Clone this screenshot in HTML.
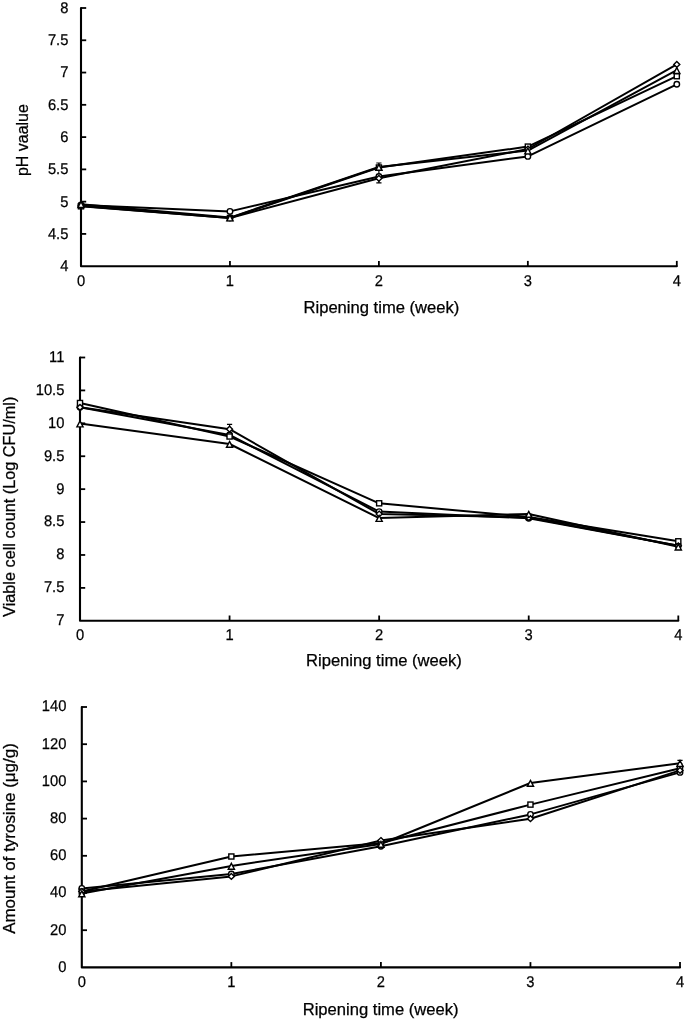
<!DOCTYPE html>
<html><head><meta charset="utf-8"><style>
html,body{margin:0;padding:0;background:#fff;}
svg{display:block;will-change:transform;}
.t{text-rendering:geometricPrecision;font-family:"Liberation Sans",sans-serif;font-size:15.5px;fill:#000;stroke:#000;stroke-width:0.25px;}
.ti{font-family:"Liberation Sans",sans-serif;font-size:16px;fill:#000;stroke:#000;stroke-width:0.25px;}
.ax{fill:none;stroke:#000;stroke-width:2.1;stroke-linejoin:round;stroke-linecap:round;}
.tk{fill:none;stroke:#000;stroke-width:1.8;}
.eb{fill:none;stroke:#000;stroke-width:1.2;}
.ln{fill:none;stroke:#000;stroke-width:2.0;stroke-linejoin:round;}
.m{fill:#fff;stroke:#000;stroke-width:1.4;}
</style></head><body>
<svg width="685" height="1020" viewBox="0 0 685 1020">
<rect width="685" height="1020" fill="#fff"/>
<path d="M81 8.0 V266.2 H676.8" class="ax"/>
<path d="M81 8.00 H86.2" class="tk"/>
<path d="M81 40.27 H86.2" class="tk"/>
<path d="M81 72.55 H86.2" class="tk"/>
<path d="M81 104.82 H86.2" class="tk"/>
<path d="M81 137.10 H86.2" class="tk"/>
<path d="M81 169.38 H86.2" class="tk"/>
<path d="M81 201.65 H86.2" class="tk"/>
<path d="M81 233.92 H86.2" class="tk"/>
<path d="M229.95 266.2 V260.9" class="tk"/>
<path d="M378.90 266.2 V260.9" class="tk"/>
<path d="M527.85 266.2 V260.9" class="tk"/>
<path d="M676.80 266.2 V260.9" class="tk"/>
<text transform="translate(68.4 12.87) scale(0.95 1)" text-anchor="end" class="t">8</text>
<text transform="translate(68.4 45.14) scale(0.95 1)" text-anchor="end" class="t">7.5</text>
<text transform="translate(68.4 77.42) scale(0.95 1)" text-anchor="end" class="t">7</text>
<text transform="translate(68.4 109.69) scale(0.95 1)" text-anchor="end" class="t">6.5</text>
<text transform="translate(68.4 141.97) scale(0.95 1)" text-anchor="end" class="t">6</text>
<text transform="translate(68.4 174.25) scale(0.95 1)" text-anchor="end" class="t">5.5</text>
<text transform="translate(68.4 206.52) scale(0.95 1)" text-anchor="end" class="t">5</text>
<text transform="translate(68.4 238.79) scale(0.95 1)" text-anchor="end" class="t">4.5</text>
<text transform="translate(68.4 271.07) scale(0.95 1)" text-anchor="end" class="t">4</text>
<text transform="translate(81.00 285.7) scale(0.95 1)" text-anchor="middle" class="t">0</text>
<text transform="translate(229.95 285.7) scale(0.95 1)" text-anchor="middle" class="t">1</text>
<text transform="translate(378.90 285.7) scale(0.95 1)" text-anchor="middle" class="t">2</text>
<text transform="translate(527.85 285.7) scale(0.95 1)" text-anchor="middle" class="t">3</text>
<text transform="translate(676.80 285.7) scale(0.95 1)" text-anchor="middle" class="t">4</text>
<text x="303.5" y="312.9" textLength="155.8" lengthAdjust="spacingAndGlyphs" class="ti">Ripening time (week)</text>
<text transform="translate(28.0 176.1) rotate(-90)" x="0" y="0" textLength="72.0" lengthAdjust="spacingAndGlyphs" class="ti">pH vaalue</text>
<path d="M378.90 163.0 V182.8 M376.30 163.0 H381.50 M376.30 182.8 H381.50" class="eb"/>
<polyline points="81.00,205.00 229.95,211.40 378.90,176.50 527.85,156.40 676.80,84.30" class="ln"/>
<polyline points="81.00,206.30 229.95,218.00 378.90,167.50 527.85,146.60 676.80,76.20" class="ln"/>
<polyline points="81.00,206.00 229.95,218.00 378.90,178.30 527.85,149.00 676.80,64.40" class="ln"/>
<polyline points="81.00,204.20 229.95,217.60 378.90,167.00 527.85,150.60 676.80,70.20" class="ln"/>
<circle cx="81.00" cy="205.00" r="2.75" class="m"/>
<circle cx="229.95" cy="211.40" r="2.75" class="m"/>
<circle cx="378.90" cy="176.50" r="2.75" class="m"/>
<circle cx="527.85" cy="156.40" r="2.75" class="m"/>
<circle cx="676.80" cy="84.30" r="2.75" class="m"/>
<rect x="78.45" y="203.75" width="5.1" height="5.1" class="m"/>
<rect x="227.40" y="215.45" width="5.1" height="5.1" class="m"/>
<rect x="376.35" y="164.95" width="5.1" height="5.1" class="m"/>
<rect x="525.30" y="144.05" width="5.1" height="5.1" class="m"/>
<rect x="674.25" y="73.65" width="5.1" height="5.1" class="m"/>
<path d="M81.00 203.10 L84.00 206.00 L81.00 208.90 L78.00 206.00 Z" class="m"/>
<path d="M229.95 215.10 L232.95 218.00 L229.95 220.90 L226.95 218.00 Z" class="m"/>
<path d="M378.90 175.40 L381.90 178.30 L378.90 181.20 L375.90 178.30 Z" class="m"/>
<path d="M527.85 146.10 L530.85 149.00 L527.85 151.90 L524.85 149.00 Z" class="m"/>
<path d="M676.80 61.50 L679.80 64.40 L676.80 67.30 L673.80 64.40 Z" class="m"/>
<path d="M81.00 201.60 L84.10 207.50 L77.90 207.50 Z" class="m"/>
<path d="M229.95 215.00 L233.05 220.90 L226.85 220.90 Z" class="m"/>
<path d="M378.90 164.40 L382.00 170.30 L375.80 170.30 Z" class="m"/>
<path d="M527.85 148.00 L530.95 153.90 L524.75 153.90 Z" class="m"/>
<path d="M676.80 67.60 L679.90 73.50 L673.70 73.50 Z" class="m"/>
<path d="M80 357.5 V620.8 H678.3" class="ax"/>
<path d="M80 357.50 H85.2" class="tk"/>
<path d="M80 390.41 H85.2" class="tk"/>
<path d="M80 423.32 H85.2" class="tk"/>
<path d="M80 456.24 H85.2" class="tk"/>
<path d="M80 489.15 H85.2" class="tk"/>
<path d="M80 522.06 H85.2" class="tk"/>
<path d="M80 554.97 H85.2" class="tk"/>
<path d="M80 587.89 H85.2" class="tk"/>
<path d="M229.57 620.8 V615.5" class="tk"/>
<path d="M379.15 620.8 V615.5" class="tk"/>
<path d="M528.72 620.8 V615.5" class="tk"/>
<path d="M678.30 620.8 V615.5" class="tk"/>
<text transform="translate(64.4 361.90) scale(0.95 1)" text-anchor="end" class="t">11</text>
<text transform="translate(64.4 394.81) scale(0.95 1)" text-anchor="end" class="t">10.5</text>
<text transform="translate(64.4 427.72) scale(0.95 1)" text-anchor="end" class="t">10</text>
<text transform="translate(64.4 460.64) scale(0.95 1)" text-anchor="end" class="t">9.5</text>
<text transform="translate(64.4 493.55) scale(0.95 1)" text-anchor="end" class="t">9</text>
<text transform="translate(64.4 526.46) scale(0.95 1)" text-anchor="end" class="t">8.5</text>
<text transform="translate(64.4 559.37) scale(0.95 1)" text-anchor="end" class="t">8</text>
<text transform="translate(64.4 592.29) scale(0.95 1)" text-anchor="end" class="t">7.5</text>
<text transform="translate(64.4 625.20) scale(0.95 1)" text-anchor="end" class="t">7</text>
<text transform="translate(80.00 639.9) scale(0.95 1)" text-anchor="middle" class="t">0</text>
<text transform="translate(229.57 639.9) scale(0.95 1)" text-anchor="middle" class="t">1</text>
<text transform="translate(379.15 639.9) scale(0.95 1)" text-anchor="middle" class="t">2</text>
<text transform="translate(528.72 639.9) scale(0.95 1)" text-anchor="middle" class="t">3</text>
<text transform="translate(678.30 639.9) scale(0.95 1)" text-anchor="middle" class="t">4</text>
<text x="306.0" y="665.8" textLength="155.8" lengthAdjust="spacingAndGlyphs" class="ti">Ripening time (week)</text>
<text transform="translate(14.9 616.9) rotate(-90)" x="0" y="0" textLength="220.3" lengthAdjust="spacingAndGlyphs" class="ti">Viable cell count (Log CFU/ml)</text>
<path d="M229.57 424.4 V433.0 M226.97 424.4 H232.17 M226.97 433.0 H232.17" class="eb"/>
<polyline points="80.00,407.30 229.57,435.00 379.15,511.60 528.72,518.30 678.30,545.80" class="ln"/>
<polyline points="80.00,403.00 229.57,436.50 379.15,503.30 528.72,517.00 678.30,541.30" class="ln"/>
<polyline points="80.00,407.30 229.57,429.20 379.15,514.00 528.72,517.50 678.30,545.80" class="ln"/>
<polyline points="80.00,423.60 229.57,444.00 379.15,518.10 528.72,514.00 678.30,546.70" class="ln"/>
<circle cx="80.00" cy="407.30" r="2.75" class="m"/>
<circle cx="229.57" cy="435.00" r="2.75" class="m"/>
<circle cx="379.15" cy="511.60" r="2.75" class="m"/>
<circle cx="528.72" cy="518.30" r="2.75" class="m"/>
<circle cx="678.30" cy="545.80" r="2.75" class="m"/>
<rect x="77.45" y="400.45" width="5.1" height="5.1" class="m"/>
<rect x="227.02" y="433.95" width="5.1" height="5.1" class="m"/>
<rect x="376.60" y="500.75" width="5.1" height="5.1" class="m"/>
<rect x="526.17" y="514.45" width="5.1" height="5.1" class="m"/>
<rect x="675.75" y="538.75" width="5.1" height="5.1" class="m"/>
<path d="M80.00 404.40 L83.00 407.30 L80.00 410.20 L77.00 407.30 Z" class="m"/>
<path d="M229.57 426.30 L232.57 429.20 L229.57 432.10 L226.57 429.20 Z" class="m"/>
<path d="M379.15 511.10 L382.15 514.00 L379.15 516.90 L376.15 514.00 Z" class="m"/>
<path d="M528.72 514.60 L531.72 517.50 L528.72 520.40 L525.72 517.50 Z" class="m"/>
<path d="M678.30 542.90 L681.30 545.80 L678.30 548.70 L675.30 545.80 Z" class="m"/>
<path d="M80.00 421.00 L83.10 426.90 L76.90 426.90 Z" class="m"/>
<path d="M229.57 441.40 L232.67 447.30 L226.47 447.30 Z" class="m"/>
<path d="M379.15 515.50 L382.25 521.40 L376.05 521.40 Z" class="m"/>
<path d="M528.72 511.40 L531.82 517.30 L525.62 517.30 Z" class="m"/>
<path d="M678.30 544.10 L681.40 550.00 L675.20 550.00 Z" class="m"/>
<path d="M81.8 707.0 V967.4 H680.0" class="ax"/>
<path d="M81.8 707.00 H87.0" class="tk"/>
<path d="M81.8 744.20 H87.0" class="tk"/>
<path d="M81.8 781.40 H87.0" class="tk"/>
<path d="M81.8 818.60 H87.0" class="tk"/>
<path d="M81.8 855.80 H87.0" class="tk"/>
<path d="M81.8 893.00 H87.0" class="tk"/>
<path d="M81.8 930.20 H87.0" class="tk"/>
<path d="M231.35 967.4 V962.1" class="tk"/>
<path d="M380.90 967.4 V962.1" class="tk"/>
<path d="M530.45 967.4 V962.1" class="tk"/>
<path d="M680.00 967.4 V962.1" class="tk"/>
<text transform="translate(66.4 711.40) scale(0.95 1)" text-anchor="end" class="t">140</text>
<text transform="translate(66.4 748.60) scale(0.95 1)" text-anchor="end" class="t">120</text>
<text transform="translate(66.4 785.80) scale(0.95 1)" text-anchor="end" class="t">100</text>
<text transform="translate(66.4 823.00) scale(0.95 1)" text-anchor="end" class="t">80</text>
<text transform="translate(66.4 860.20) scale(0.95 1)" text-anchor="end" class="t">60</text>
<text transform="translate(66.4 897.40) scale(0.95 1)" text-anchor="end" class="t">40</text>
<text transform="translate(66.4 934.60) scale(0.95 1)" text-anchor="end" class="t">20</text>
<text transform="translate(66.4 971.80) scale(0.95 1)" text-anchor="end" class="t">0</text>
<text transform="translate(81.80 986.9) scale(0.95 1)" text-anchor="middle" class="t">0</text>
<text transform="translate(231.35 986.9) scale(0.95 1)" text-anchor="middle" class="t">1</text>
<text transform="translate(380.90 986.9) scale(0.95 1)" text-anchor="middle" class="t">2</text>
<text transform="translate(530.45 986.9) scale(0.95 1)" text-anchor="middle" class="t">3</text>
<text transform="translate(680.00 986.9) scale(0.95 1)" text-anchor="middle" class="t">4</text>
<text x="302.7" y="1015.4" textLength="155.8" lengthAdjust="spacingAndGlyphs" class="ti">Ripening time (week)</text>
<text transform="translate(15.0 933.8) rotate(-90)" x="0" y="0" textLength="190.6" lengthAdjust="spacingAndGlyphs" class="ti">Amount of tyrosine (μg/g)</text>
<path d="M680.00 760.4 V764.0 M677.40 760.4 H682.60 M677.40 764.0 H682.60" class="eb"/>
<polyline points="81.80,888.40 231.35,874.00 380.90,846.20 530.45,814.40 680.00,772.40" class="ln"/>
<polyline points="81.80,891.50 231.35,856.50 380.90,843.00 530.45,804.60 680.00,768.30" class="ln"/>
<polyline points="81.80,891.50 231.35,876.40 380.90,840.50 530.45,818.70 680.00,770.40" class="ln"/>
<polyline points="81.80,893.50 231.35,865.90 380.90,844.00 530.45,783.00 680.00,763.20" class="ln"/>
<circle cx="81.80" cy="888.40" r="2.75" class="m"/>
<circle cx="231.35" cy="874.00" r="2.75" class="m"/>
<circle cx="380.90" cy="846.20" r="2.75" class="m"/>
<circle cx="530.45" cy="814.40" r="2.75" class="m"/>
<circle cx="680.00" cy="772.40" r="2.75" class="m"/>
<rect x="79.25" y="888.95" width="5.1" height="5.1" class="m"/>
<rect x="228.80" y="853.95" width="5.1" height="5.1" class="m"/>
<rect x="378.35" y="840.45" width="5.1" height="5.1" class="m"/>
<rect x="527.90" y="802.05" width="5.1" height="5.1" class="m"/>
<rect x="677.45" y="765.75" width="5.1" height="5.1" class="m"/>
<path d="M81.80 888.60 L84.80 891.50 L81.80 894.40 L78.80 891.50 Z" class="m"/>
<path d="M231.35 873.50 L234.35 876.40 L231.35 879.30 L228.35 876.40 Z" class="m"/>
<path d="M380.90 837.60 L383.90 840.50 L380.90 843.40 L377.90 840.50 Z" class="m"/>
<path d="M530.45 815.80 L533.45 818.70 L530.45 821.60 L527.45 818.70 Z" class="m"/>
<path d="M680.00 767.50 L683.00 770.40 L680.00 773.30 L677.00 770.40 Z" class="m"/>
<path d="M81.80 890.90 L84.90 896.80 L78.70 896.80 Z" class="m"/>
<path d="M231.35 863.30 L234.45 869.20 L228.25 869.20 Z" class="m"/>
<path d="M380.90 841.40 L384.00 847.30 L377.80 847.30 Z" class="m"/>
<path d="M530.45 780.40 L533.55 786.30 L527.35 786.30 Z" class="m"/>
<path d="M680.00 760.60 L683.10 766.50 L676.90 766.50 Z" class="m"/>
</svg>
</body></html>
